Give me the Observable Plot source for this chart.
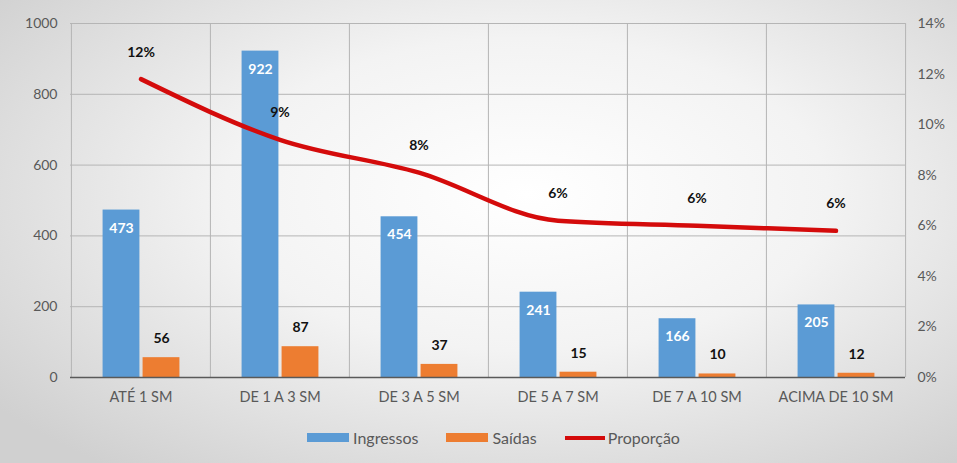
<!DOCTYPE html>
<html>
<head>
<meta charset="utf-8">
<script src="https://cdn.jsdelivr.net/npm/d3@7"></script>
<script src="https://cdn.jsdelivr.net/npm/@observablehq/plot@0.6"></script>
<style>
  html, body { margin: 0; padding: 0; }
  #chart {
    width: 957px; height: 463px; overflow: hidden;
    background: radial-gradient(ellipse 70% 75% at 55% 42%, #ffffff 0%, #f3f3f3 45%, #d0d0d0 100%);
    font-family: Lato, "Open Sans", sans-serif;
  }
  #legend { display: flex; justify-content: center; align-items: center; margin-top: 13px; font-size: 16px; color: #595959; padding-left: 30px; }
  .item { display: flex; align-items: center; margin: 0 14px; }
  .sw { width: 42px; height: 9px; margin-right: 4px; }
  .ln { width: 40px; height: 4px; margin-right: 3px; background: #d40b0b; }
</style>
</head>
<body>
<div id="chart"></div>
<script>
const categories = ["ATÉ 1 SM", "DE 1 A 3 SM", "DE 3 A 5 SM", "DE 5 A 7 SM", "DE 7 A 10 SM", "ACIMA DE 10 SM"];
const ingressos = [473, 922, 454, 241, 166, 205];
const saidas = [56, 87, 37, 15, 10, 12];
const proporcao = [0.118, 0.094, 0.081, 0.062, 0.060, 0.058];
const leftTicks = [0, 200, 400, 600, 800, 1000];
const rightTicks = [0, 0.02, 0.04, 0.06, 0.08, 0.10, 0.12, 0.14];

const rows = categories.map((c, i) => ({cat: c, ing: ingressos[i], sai: saidas[i], p: proporcao[i]}));
const pMax = 0.14, yMax = 1000;
const toY = p => p * yMax / pMax;

const W = 957, ML = 70, MR = 52;
const half = (W - ML - MR) / categories.length / 2;

const plot = Plot.plot({
  width: W, height: 415,
  marginLeft: ML, marginRight: MR, marginTop: 23, marginBottom: 38,
  style: {background: "transparent", fontFamily: "Lato, 'Open Sans', sans-serif"},
  x: {domain: categories, padding: 0, axis: null},
  y: {domain: [0, yMax], axis: null},
  marks: [
    Plot.ruleY(leftTicks.slice(1), {stroke: "#b5b5b5", strokeWidth: 1}),
    Plot.ruleX(categories, {x: d => d, dx: -half, stroke: "#b5b5b5"}),
    Plot.ruleX([categories[categories.length - 1]], {x: d => d, dx: half, stroke: "#b5b5b5"}),
    Plot.barY(rows, {x: "cat", y: "ing", fill: "#5b9bd5", insetLeft: half - 38, insetRight: half + 1}),
    Plot.barY(rows, {x: "cat", y: "sai", fill: "#ed7d31", insetLeft: half + 2, insetRight: half - 39}),
    Plot.ruleY([0], {stroke: "#595959", strokeWidth: 1.5}),
    Plot.axisY({ticks: leftTicks, tickFormat: d3.format("d"), tickSize: 0, tickPadding: 13, fontSize: 14, color: "#595959", label: null}),
    Plot.axisY({anchor: "right", ticks: rightTicks.map(toY), tickFormat: d => Math.round(d * pMax / yMax * 100) + "%", tickSize: 0, tickPadding: 12, fontSize: 14, color: "#595959", label: null}),
    Plot.axisX({tickSize: 0, tickPadding: 14, fontSize: 14.5, color: "#595959", label: null}),
    Plot.text(rows, {x: "cat", y: "ing", text: d => String(d.ing), dx: -19.5, dy: 18, fill: "white", fontWeight: "bold", fontSize: 14}),
    Plot.text(rows, {x: "cat", y: "sai", text: d => String(d.sai), dx: 20.5, dy: -19, fill: "#111", fontWeight: "bold", fontSize: 14}),
    Plot.line(rows, {x: "cat", y: d => toY(d.p), stroke: "#d40b0b", strokeWidth: 4.5, curve: "monotone-x", strokeLinecap: "round"}),
    Plot.text(rows, {x: "cat", y: d => toY(d.p), text: d => d3.format(".0%")(d.p), dy: -27, fill: "#111", fontWeight: "bold", fontSize: 14})
  ]
});

const chart = document.getElementById("chart");
chart.appendChild(plot);
const legend = document.createElement("div");
legend.id = "legend";
legend.innerHTML = `
  <div class="item"><div class="sw" style="background:#5b9bd5"></div>Ingressos</div>
  <div class="item"><div class="sw" style="background:#ed7d31"></div>Saídas</div>
  <div class="item"><div class="ln"></div>Proporção</div>`;
chart.appendChild(legend);
</script>
</body>
</html>
